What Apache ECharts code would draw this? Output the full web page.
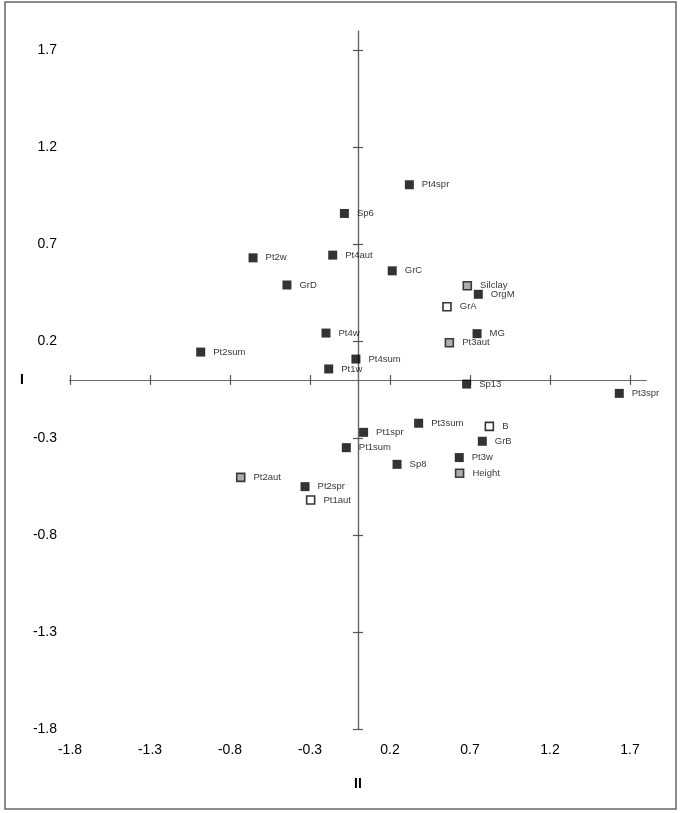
<!DOCTYPE html>
<html>
<head>
<meta charset="utf-8">
<script src="https://cdn.jsdelivr.net/npm/echarts@6/dist/echarts.min.js"></script>
<style>
  html, body { margin: 0; padding: 0; background: #fff; }
  #chart { width: 681px; height: 813px; }
</style>
</head>
<body>
<div id="chart"></div>
<script>
// Ordination scores
const pointNames = ['Sp6', 'Pt4aut', 'Pt2w', 'GrD', 'Pt4w', 'Pt2sum', 'Pt4sum', 'Pt1w',
  'Pt4spr', 'GrC', 'Silclay', 'OrgM', 'GrA', 'MG', 'Pt3aut',
  'Sp13', 'Pt3sum', 'B', 'Pt1spr', 'GrB', 'Pt1sum', 'Pt3w', 'Sp8', 'Height',
  'Pt2spr', 'Pt1aut', 'Pt2aut', 'Pt3spr'];
const axisII = [-0.085, -0.158, -0.656, -0.444, -0.200, -0.983, -0.013, -0.183,
  0.321, 0.214, 0.683, 0.752, 0.556, 0.744, 0.571,
  0.679, 0.379, 0.821, 0.035, 0.777, -0.073, 0.633, 0.244, 0.635,
  -0.331, -0.296, -0.733, 1.633];
const axisI = [0.859, 0.644, 0.630, 0.490, 0.242, 0.144, 0.108, 0.057,
  1.007, 0.563, 0.486, 0.442, 0.378, 0.239, 0.192,
  -0.021, -0.223, -0.239, -0.270, -0.316, -0.349, -0.400, -0.435, -0.481,
  -0.550, -0.619, -0.502, -0.069];
const openPoints = ['GrA', 'B', 'Pt1aut'];
const greyPoints = ['Silclay', 'Pt3aut', 'Height', 'Pt2aut'];
const tickValues = [-1.8, -1.3, -0.8, -0.3, 0.2, 0.7, 1.2, 1.7];
const axisMin = -1.8;
const axisMax = 1.8;

const FONT = 'Liberation Sans, Arial, sans-serif';

const pick = (test) => pointNames
  .map((n, i) => [axisII[i], axisI[i], n])
  .filter((d) => test(d[2]));

// two copies of the centre axes, ticks out on one and in on the other -> crossing ticks
const lineAxis = (pos, inside) => ({
  type: 'value', min: axisMin, max: axisMax, position: pos,
  axisLine: { show: true, onZero: true, lineStyle: { color: '#666', width: 1.2 } },
  axisTick: { show: true, inside: inside, length: 5, customValues: tickValues,
    lineStyle: { color: '#555', width: 1.2 } },
  axisLabel: { show: false },
  splitLine: { show: false }
});

const labelAxis = (pos, extra) => Object.assign({
  type: 'value', min: axisMin, max: axisMax, position: pos,
  axisLine: { show: false, onZero: false },
  axisTick: { show: false },
  splitLine: { show: false },
  nameLocation: 'middle',
  nameTextStyle: { fontFamily: FONT, fontSize: 14, fontWeight: 'bold', color: '#000' }
}, extra);

const labelStyle = {
  show: true, position: 'right', distance: 8,
  formatter: (p) => p.data[2],
  fontFamily: FONT, fontSize: 9.5, color: '#000'
};

const chart = echarts.init(document.getElementById('chart'));
chart.setOption({
  animation: false,
  backgroundColor: '#fff',
  grid: { left: 70, right: 35, top: 31, bottom: 84 },
  graphic: [{
    type: 'rect', silent: true,
    shape: { x: 5, y: 2, width: 671, height: 807 },
    style: { fill: 'none', stroke: '#666', lineWidth: 1.5 }
  }],
  xAxis: [
    lineAxis('bottom', false),
    lineAxis('bottom', true),
    labelAxis('bottom', {
      name: 'II', nameGap: 48,
      axisLabel: { customValues: tickValues, margin: 14, fontFamily: FONT, fontSize: 14, color: '#000',
        formatter: (v) => v.toFixed(1) }
    })
  ],
  yAxis: [
    lineAxis('left', false),
    lineAxis('left', true),
    labelAxis('left', {
      name: 'I', nameGap: 46, nameRotate: 0,
      axisLabel: { customValues: tickValues, margin: 13, fontFamily: FONT, fontSize: 14, color: '#000',
        formatter: (v) => v.toFixed(1) }
    })
  ],
  series: [
    {
      type: 'scatter', symbol: 'rect', symbolSize: 9,
      data: pick((n) => !openPoints.includes(n) && !greyPoints.includes(n)),
      itemStyle: { color: '#000' },
      label: labelStyle
    },
    {
      type: 'scatter', symbol: 'rect', symbolSize: 8,
      data: pick((n) => openPoints.includes(n)),
      itemStyle: { color: '#fff', borderColor: '#000', borderWidth: 1.6 },
      label: labelStyle
    },
    {
      type: 'scatter', symbol: 'rect', symbolSize: 8,
      data: pick((n) => greyPoints.includes(n)),
      itemStyle: { color: '#999', borderColor: '#111', borderWidth: 1.6 },
      label: labelStyle
    }
  ]
});
</script>
</body>
</html>
